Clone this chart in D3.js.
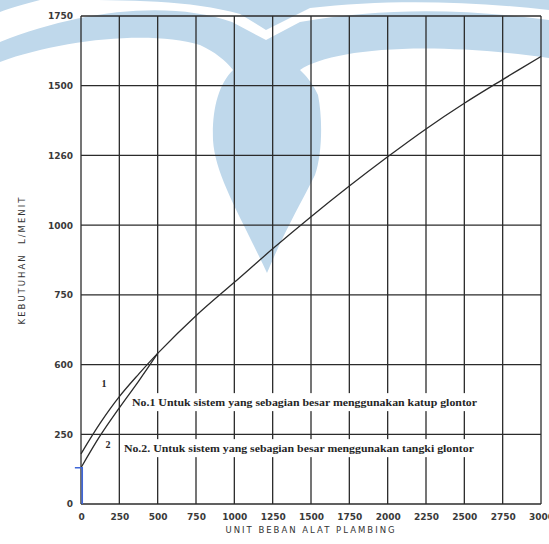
<!DOCTYPE html>
<html>
<head>
<meta charset="utf-8">
<script src="https://cdn.jsdelivr.net/npm/d3@7"></script>
<style>
  body { margin: 0; background: #fff; }
  svg { display: block; }
</style>
</head>
<body>
<svg width="549" height="544"></svg>
<script>
// x axis: unit beban alat plambing, y axis: kebutuhan L/menit
const xTicks = [0, 250, 500, 750, 1000, 1250, 1500, 1750, 2000, 2250, 2500, 2750, 3000];
const yTicks = [0, 250, 500, 750, 1000, 1250, 1500, 1750];
const yTickLabels = ["0", "250", "600", "750", "1000", "1260", "1500", "1750"];

// curve 1 (katup glontor) and curve 2 (tangki glontor)
const curve1 = [[0, 180], [125, 290], [250, 385], [375, 465], [500, 540], [750, 675],
  [1000, 795], [1250, 915], [1500, 1030], [1750, 1140], [2000, 1245], [2250, 1345],
  [2500, 1437], [2750, 1522], [3000, 1605]];
const curve2 = [[0, 130], [125, 245], [250, 345], [375, 440], [500, 540]];

const notes = [
  { text: "No.1 Untuk sistem yang sebagian besar menggunakan katup glontor", x: 333, y: 351, len: 345 },
  { text: "No.2. Untuk sistem yang sebagian besar menggunakan tangki glontor", x: 280, y: 186, len: 350 }
];
const curveNums = [{ text: "1", x: 150, y: 420 }, { text: "2", x: 176, y: 201 }];

const svg = d3.select("svg");

const x = d3.scaleLinear().domain([0, 3000]).range([81, 541]);
const y = d3.scaleLinear().domain([0, 1750]).range([504, 16]);

// watermark of the scan (light blue logo)
const wm = svg.append("g").attr("fill", "#bfd8eb");
wm.append("path").attr("d",
  "M0,62 C60,40 150,30 200,45 C215,52 225,60 233,70 C218,85 212,110 213,140 " +
  "C215,175 240,215 267,273 C285,230 300,205 315,175 C322,155 323,120 318,95 " +
  "C312,82 306,76 300,70 C330,50 420,40 549,58 V20 C460,8 380,8 300,22 L266,40 " +
  "L232,22 C170,0 80,10 0,42 Z");
wm.append("path").attr("d",
  "M60,0 H549 V10 C460,0 380,0 310,8 L266,30 L240,14 C190,0 130,0 60,0 Z");
wm.append("path").attr("d", "M0,0 H40 C25,4 10,8 0,12 Z");

// grid
const grid = svg.append("g").attr("stroke", "#2b2b2b").attr("stroke-width", 1.3);
grid.selectAll("line.v").data(xTicks).join("line")
  .attr("class", "v")
  .attr("x1", d => x(d)).attr("x2", d => x(d))
  .attr("y1", y(0)).attr("y2", y(1750));
grid.selectAll("line.h").data(yTicks).join("line")
  .attr("class", "h")
  .attr("x1", x(0)).attr("x2", x(3000))
  .attr("y1", d => y(d)).attr("y2", d => y(d));

// axes labels
const yAxis = d3.axisLeft(y).tickValues(yTicks).tickSize(0).tickPadding(8)
  .tickFormat((d, i) => yTickLabels[i]);
const xAxis = d3.axisBottom(x).tickValues(xTicks).tickSize(0).tickPadding(10)
  .tickFormat(d3.format("d"));

svg.append("g").attr("transform", `translate(${x(0)},0)`).call(yAxis)
  .call(g => g.select(".domain").remove());
svg.append("g").attr("transform", `translate(0,${y(0)})`).call(xAxis)
  .call(g => g.select(".domain").remove());

svg.selectAll(".tick text")
  .attr("font-family", "DejaVu Sans")
  .attr("font-size", 9)
  .attr("font-weight", "bold")
  .attr("fill", "#3a3a3a");

svg.append("text")
  .attr("x", (x(0) + x(3000)) / 2)
  .attr("y", 533)
  .attr("text-anchor", "middle")
  .attr("font-family", "DejaVu Sans")
  .attr("font-size", 8.5)
  .attr("letter-spacing", 2)
  .attr("fill", "#333")
  .text("UNIT BEBAN ALAT PLAMBING");

svg.append("text")
  .attr("transform", `translate(25,${y(875)}) rotate(-90)`)
  .attr("text-anchor", "middle")
  .attr("font-family", "DejaVu Sans")
  .attr("font-size", 8.5)
  .attr("letter-spacing", 2)
  .attr("fill", "#333")
  .attr("xml:space", "preserve")
  .text("KEBUTUHAN  L/MENIT");

// notes with white background that breaks the grid lines
const noteG = svg.append("g");
const noteText = noteG.selectAll("text").data(notes).join("text")
  .attr("x", d => x(d.x))
  .attr("y", d => y(d.y))
  .attr("font-family", "Liberation Serif")
  .attr("font-size", 11)
  .attr("font-weight", "bold")
  .attr("fill", "#262626")
  .attr("textLength", d => d.len)
  .attr("lengthAdjust", "spacingAndGlyphs")
  .text(d => d.text);
noteText.each(function () {
  const b = this.getBBox();
  noteG.insert("rect", "text")
    .attr("x", b.x - 3).attr("y", b.y - 3)
    .attr("width", b.width + 6).attr("height", b.height + 6)
    .attr("fill", "#fff");
});

// curves
const line = d3.line().x(d => x(d[0])).y(d => y(d[1])).curve(d3.curveCatmullRom.alpha(0.5));
svg.append("g").attr("fill", "none").attr("stroke", "#2b2b2b").attr("stroke-width", 1.3)
  .selectAll("path").data([curve1, curve2]).join("path")
  .attr("d", line);

svg.selectAll("text.num").data(curveNums).join("text")
  .attr("class", "num")
  .attr("x", d => x(d.x)).attr("y", d => y(d.y))
  .attr("text-anchor", "middle")
  .attr("font-family", "Liberation Serif")
  .attr("font-size", 10)
  .attr("font-weight", "bold")
  .attr("fill", "#262626")
  .text(d => d.text);

// blue hand mark at the start of curve 2
svg.append("path")
  .attr("fill", "none").attr("stroke", "#3f66d8").attr("stroke-width", 1.6)
  .attr("d", `M${x(-40)},${y(130)} H${x(8)} V${y(0)}`);
</script>
</body>
</html>
